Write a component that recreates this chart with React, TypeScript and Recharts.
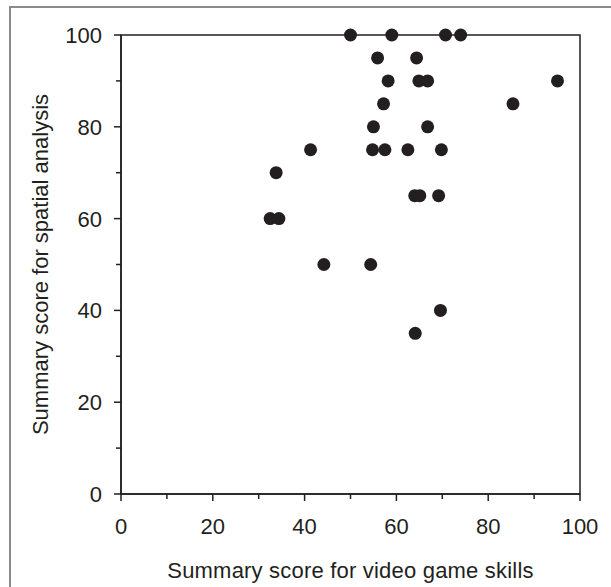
import React from 'react';
import {
  ScatterChart,
  Scatter,
  XAxis,
  YAxis,
  ReferenceArea,
  Label,
} from 'recharts';

// video game skills score (x) vs spatial analysis score (y)
const gameSkills = [
  50, 59, 70.7, 74, 55.9, 64.4, 58.2, 64.9, 66.8, 95.1, 57.2, 85.4, 55, 66.8,
  41.3, 54.8, 57.5, 62.5, 69.8, 33.8, 64, 65.1, 69.2, 32.5, 34.4, 44.2, 54.4,
  69.6, 64.1,
];
const spatialScores = [
  100, 100, 100, 100, 95, 95, 90, 90, 90, 90, 85, 85, 80, 80,
  75, 75, 75, 75, 75, 70, 65, 65, 65, 60, 60, 50, 50,
  40, 35,
];
const axisTicks = [0, 10, 20, 30, 40, 50, 60, 70, 80, 90, 100];

const points = gameSkills.map((x, i) => ({ x, y: spatialScores[i] }));

const INK = '#231f20';
const FONT = '"Liberation Sans", Arial, sans-serif';
const FS = 22;

function XTick(props: any) {
  const { x, y, payload } = props;
  const major = payload.value % 20 === 0;
  return (
    <g>
      <line x1={x} y1={y} x2={x} y2={y + (major ? 7 : 5)} stroke={INK} strokeWidth={1.5} />
      {major && (
        <text x={x} y={y + 40} textAnchor="middle" fontSize={FS} fill={INK} fontFamily={FONT}>
          {payload.value}
        </text>
      )}
    </g>
  );
}

function YTick(props: any) {
  const { x, y, payload } = props;
  const major = payload.value % 20 === 0;
  return (
    <g>
      <line x1={x - (major ? 7 : 5)} y1={y} x2={x} y2={y} stroke={INK} strokeWidth={1.5} />
      {major && (
        <text x={x - 19} y={y + 8} textAnchor="end" fontSize={FS} fill={INK} fontFamily={FONT}>
          {payload.value}
        </text>
      )}
    </g>
  );
}

const Dot = (props: any) => <circle cx={props.cx} cy={props.cy} r={6.5} fill={INK} />;

export default function App() {
  return (
    <div style={{ position: 'absolute', left: 0, top: 0, width: 611, height: 587, background: '#fff' }}>
      <div
        style={{
          position: 'absolute',
          left: 9,
          top: 6,
          width: 602,
          height: 581,
          borderTop: '2.5px solid #8a8a8a',
          borderLeft: '2.5px solid #8a8a8a',
        }}
      />
      <ScatterChart
        width={611}
        height={587}
        margin={{ top: 35, right: 31, left: 0, bottom: 0 }}
        style={{ position: 'absolute', left: 0, top: 0 }}
      >
        <XAxis
          type="number"
          dataKey="x"
          domain={[0, 100]}
          ticks={axisTicks}
          interval={0}
          height={93}
          tickSize={0}
          tickMargin={0}
          tick={<XTick />}
          axisLine={{ stroke: INK, strokeWidth: 1.5 }}
          tickLine={false}
        >
          <Label
            value="Summary score for video game skills"
            position="insideBottom"
            offset={9}
            fontSize={FS}
            fill={INK}
            fontFamily={FONT}
            letterSpacing={0.2}
          />
        </XAxis>
        <YAxis
          type="number"
          dataKey="y"
          domain={[0, 100]}
          ticks={axisTicks}
          interval={0}
          width={121}
          tickSize={0}
          tickMargin={0}
          tick={<YTick />}
          axisLine={{ stroke: INK, strokeWidth: 1.5 }}
          tickLine={false}
        >
          <Label
            value="Summary score for spatial analysis"
            angle={-90}
            position="insideLeft"
            offset={40}
            textAnchor="middle"
            fontSize={FS}
            fill={INK}
            fontFamily={FONT}
          />
        </YAxis>
        <ReferenceArea x1={0} x2={100} y1={0} y2={100} fill="none" stroke={INK} strokeWidth={1.5} fillOpacity={0} />
        <Scatter data={points} shape={<Dot />} isAnimationActive={false} />
      </ScatterChart>
    </div>
  );
}
